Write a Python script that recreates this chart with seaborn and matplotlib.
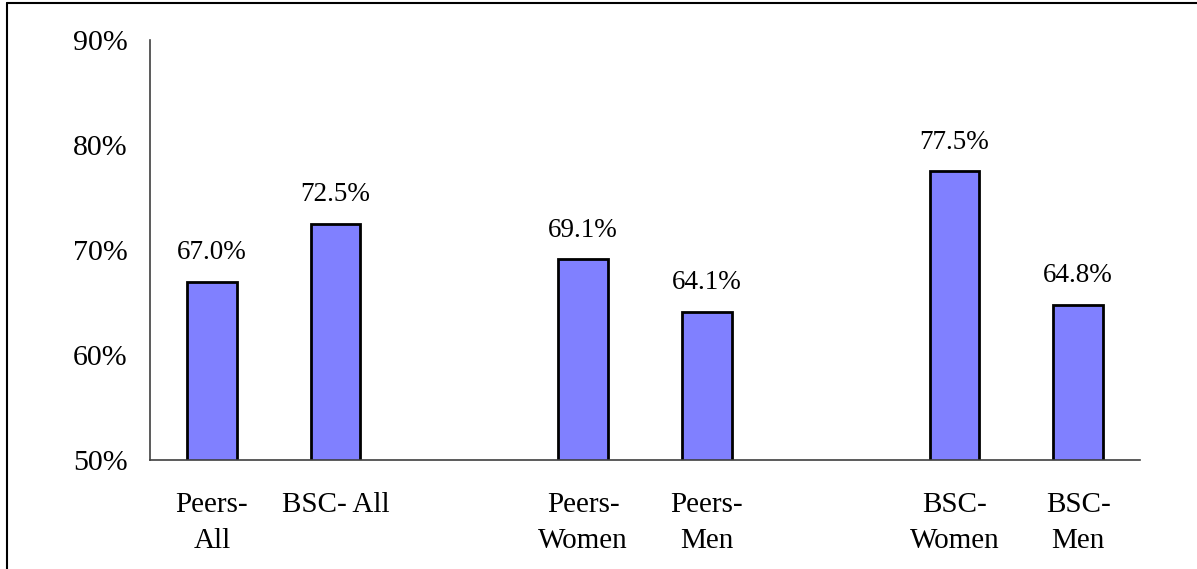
import matplotlib
matplotlib.use("Agg")
import matplotlib.pyplot as plt
import seaborn as sns
import pandas as pd
from matplotlib.lines import Line2D

categories = ["Peers-\nAll", "BSC- All", "Peers-\nWomen", "Peers-\nMen", "BSC-\nWomen", "BSC-\nMen"]
values = [67.0, 72.5, 69.1, 64.1, 77.5, 64.8]
slot_order = ["Peers-\nAll", "BSC- All", " ", "Peers-\nWomen", "Peers-\nMen", "  ", "BSC-\nWomen", "BSC-\nMen"]
y_ticks = [50, 60, 70, 80, 90]
y_tick_labels = ["50%", "60%", "70%", "80%", "90%"]

sns.set_theme(style="white")
plt.rcParams['font.family'] = ['Liberation Serif', 'DejaVu Serif']

df = pd.DataFrame({"cat": categories, "val": values})

fig = plt.figure(figsize=(11.97, 5.69), dpi=100)
ax = fig.add_axes([150/1197, 1-460/569, 990/1197, 420/569])

sns.barplot(data=df, x="cat", y="val", order=slot_order, color="#8080FF",
            saturation=1, width=0.4, edgecolor="black", linewidth=2, ax=ax)

for c in ax.containers:
    labels = [f"{v:.1f}%" if v == v else "" for v in c.datavalues]
    ax.bar_label(c, labels=labels, padding=12, fontsize=19.5, color="black")

ax.set_ylim(50, 90)
ax.set_yticks(y_ticks)
ax.set_yticklabels(y_tick_labels, fontsize=21.5)
ax.set_xlim(-0.5, len(slot_order) - 0.5)
ax.tick_params(axis="x", labelsize=21, length=0, pad=23)
ax.tick_params(axis="y", length=0, pad=16)
ax.set_xlabel("")
ax.set_ylabel("")
for s in ["top", "right"]:
    ax.spines[s].set_visible(False)
for s in ["left", "bottom"]:
    ax.spines[s].set_color("#404040")
    ax.spines[s].set_linewidth(1.2)
for t in ax.get_xticklabels():
    t.set_color("black")
    t.set_linespacing(1.52)
for t in ax.get_yticklabels():
    t.set_color("black")

# figure frame (top and left edges)
fig.add_artist(Line2D([7/1197, 1], [1-3/569, 1-3/569], transform=fig.transFigure, color="black", lw=1.5))
fig.add_artist(Line2D([7/1197, 7/1197], [0, 1-3/569], transform=fig.transFigure, color="black", lw=1.5))

fig.savefig("out.png", dpi=100)
